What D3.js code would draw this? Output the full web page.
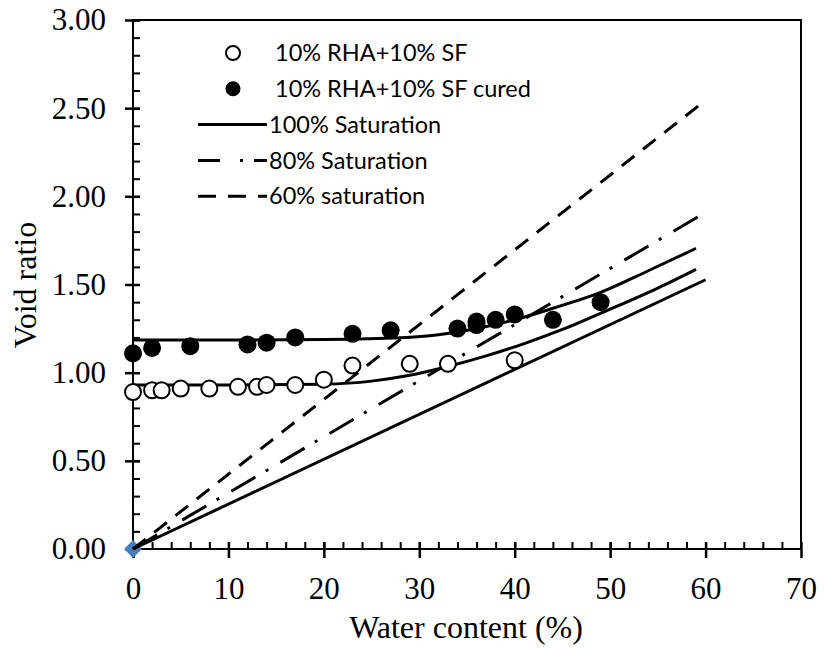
<!DOCTYPE html>
<html>
<head>
<meta charset="utf-8">
<script src="https://cdn.jsdelivr.net/npm/d3@7/dist/d3.min.js"></script>
</head>
<body style="margin:0">
<div id="chart"></div>
<script>
// 10% RHA + 10% SF, as compacted
let wcPlain		= [0, 2, 3, 5, 8, 11, 13, 14, 17, 20, 23, 29, 33, 40];
let ePlain		= [0.89, 0.90, 0.90, 0.91, 0.91, 0.92, 0.92, 0.93, 0.93, 0.96, 1.04, 1.05, 1.05, 1.07];

// 10% RHA + 10% SF, cured
let wcCured		= [0, 2, 6, 12, 14, 17, 23, 27, 34, 36, 36, 38, 40, 44, 49];
let eCured		= [1.11, 1.14, 1.15, 1.16, 1.17, 1.20, 1.22, 1.24, 1.25, 1.27, 1.29, 1.30, 1.33, 1.30, 1.40];

// fitted trend curves
let wcFitPlain	= [0, 10, 20, 25, 29, 33, 37, 41, 45, 50, 55, 59];
let eFitPlain	= [0.93, 0.93, 0.935, 0.952, 0.985, 1.035, 1.095, 1.165, 1.245, 1.36, 1.48, 1.586];
let wcFitCured	= [0, 10, 20, 28, 32, 36, 40, 44, 49, 54, 59];
let eFitCured	= [1.185, 1.185, 1.188, 1.198, 1.215, 1.25, 1.30, 1.365, 1.455, 1.578, 1.705];

// saturation lines, start and end points
let wcSat		= [0, 60];
let eSat100		= [0, 1.527];
let eSat80		= [0, 1.909];
let eSat60		= [0, 2.545];

let xTicks		= [0, 10, 20, 30, 40, 50, 60, 70];
let yTicks		= [0, 0.5, 1, 1.5, 2, 2.5, 3];

let legendLabels = ["10% RHA+10% SF", "10% RHA+10% SF cured", "100% Saturation", "80% Saturation", "60% saturation"];

let serif	= "'Liberation Serif'";
let sans	= "'Lato'";

function createChart() {
	let canvasWidth		= 824;
	let canvasHeight	= 648;
	let margin			= { top: 20, right: 23, bottom: 99, left: 133 };
	let width			= canvasWidth - margin.left - margin.right;
	let height			= canvasHeight - margin.top - margin.bottom;

	let svg = d3.select("#chart").append("svg")
		.attr("width", canvasWidth)
		.attr("height", canvasHeight)
		.append("g")
			.attr("transform", "translate(" + margin.left + "," + margin.top + ")");

	let x = d3.scaleLinear().domain([0, 70]).range([0, width]);
	let y = d3.scaleLinear().domain([0, 3]).range([height, 0]);

	// minor ticks, inside the frame
	svg.append("g")
		.attr("transform", "translate(0," + height + ")")
		.call(d3.axisBottom(x).tickValues(d3.range(0, 70, 2)).tickSize(-7).tickFormat(""))
		.call(g => g.select(".domain").remove())
		.selectAll("line").attr("stroke", "#000").attr("stroke-width", 2);

	svg.append("g")
		.call(d3.axisLeft(y).tickValues(d3.range(0, 31).map(d => d / 10)).tickSize(-7).tickFormat(""))
		.call(g => g.select(".domain").remove())
		.selectAll("line").attr("stroke", "#000").attr("stroke-width", 2);

	// major ticks cross the axis
	let xAxis = svg.append("g")
		.attr("transform", "translate(0," + height + ")")
		.call(d3.axisBottom(x).tickValues(xTicks).tickSize(9).tickPadding(19).tickFormat(d3.format("d")));
	xAxis.selectAll(".tick line").attr("y1", -7).attr("stroke-width", 2.5);
	xAxis.select(".domain").remove();

	let yAxis = svg.append("g")
		.call(d3.axisLeft(y).tickValues(yTicks).tickSize(8).tickPadding(19).tickFormat(d3.format(".2f")));
	yAxis.selectAll(".tick line").attr("x1", 7).attr("stroke-width", 2.5);
	yAxis.select(".domain").remove();

	svg.selectAll(".tick text")
		.style("font-family", serif)
		.style("font-size", "31px")
		.attr("fill", "#000");

	// frame
	svg.append("rect")
		.attr("width", width)
		.attr("height", height)
		.attr("fill", "none")
		.attr("stroke", "#000")
		.attr("stroke-width", 2);

	// origin marker
	svg.append("path")
		.attr("d", d3.symbol(d3.symbolSquare, 160)())
		.attr("transform", "translate(" + x(0) + "," + y(0) + ") rotate(45)")
		.attr("fill", "#4a7ebb");

	let line = d3.line()
		.x(d => x(d[0]))
		.y(d => y(d[1]));

	let satLines = [
		{ e: eSat100, dash: null, key: null },
		{ e: eSat80, dash: "28,12,3,14", key: "22,20,3,11" },
		{ e: eSat60, dash: "16,11", key: "18,12" }
	];

	svg.selectAll("path.sat")
		.data(satLines)
		.enter().append("path")
		.attr("class", "sat")
		.attr("d", o => line(d3.zip(wcSat, o.e)))
		.attr("fill", "none")
		.attr("stroke", "#000")
		.attr("stroke-width", 3)
		.attr("stroke-dasharray", o => o.dash);

	let curve = d3.line()
		.x(d => x(d[0]))
		.y(d => y(d[1]))
		.curve(d3.curveMonotoneX);

	svg.selectAll("path.fit")
		.data([d3.zip(wcFitPlain, eFitPlain), d3.zip(wcFitCured, eFitCured)])
		.enter().append("path")
		.attr("class", "fit")
		.attr("d", curve)
		.attr("fill", "none")
		.attr("stroke", "#000")
		.attr("stroke-width", 3);

	svg.selectAll("circle.plain")
		.data(d3.zip(wcPlain, ePlain))
		.enter().append("circle")
		.attr("class", "plain")
		.attr("cx", o => x(o[0]))
		.attr("cy", o => y(o[1]))
		.attr("r", 8)
		.attr("fill", "#fff")
		.attr("stroke", "#000")
		.attr("stroke-width", 2);

	svg.selectAll("circle.cured")
		.data(d3.zip(wcCured, eCured))
		.enter().append("circle")
		.attr("class", "cured")
		.attr("cx", o => x(o[0]))
		.attr("cy", o => y(o[1]))
		.attr("r", 9)
		.attr("fill", "#000");

	// axis titles
	svg.append("text")
		.attr("x", 466 - margin.left)
		.attr("y", 638 - margin.top)
		.attr("text-anchor", "middle")
		.style("font-family", serif)
		.style("font-size", "32px")
		.text("Water content (%)");

	svg.append("text")
		.attr("transform", "translate(" + (36 - margin.left) + "," + (285 - margin.top) + ") rotate(-90)")
		.attr("text-anchor", "middle")
		.style("font-family", serif)
		.style("font-size", "32px")
		.text("Void ratio");

	// legend
	let legend = svg.append("g")
		.attr("transform", "translate(" + (198 - margin.left) + "," + (53 - margin.top) + ")");

	legend.selectAll("text")
		.data(legendLabels)
		.enter().append("text")
		.attr("x", (o, i) => i < 2 ? 77 : 71)
		.attr("y", (o, i) => i * 35.8)
		.attr("dy", "0.35em")
		.style("font-family", sans)
		.style("font-size", "23.5px")
		.text(o => o);

	legend.append("circle")
		.attr("cx", 35).attr("cy", 0).attr("r", 7)
		.attr("fill", "#fff").attr("stroke", "#000").attr("stroke-width", 2);
	legend.append("circle")
		.attr("cx", 35).attr("cy", 35.8).attr("r", 7.5)
		.attr("fill", "#000");

	satLines.forEach((o, i) => {
		legend.append("line")
			.attr("x1", 0).attr("x2", 69)
			.attr("y1", (i + 2) * 35.8).attr("y2", (i + 2) * 35.8)
			.attr("stroke", "#000")
			.attr("stroke-width", 3)
			.attr("stroke-dasharray", o.key);
	});
}

createChart();
</script>
</body>
</html>
